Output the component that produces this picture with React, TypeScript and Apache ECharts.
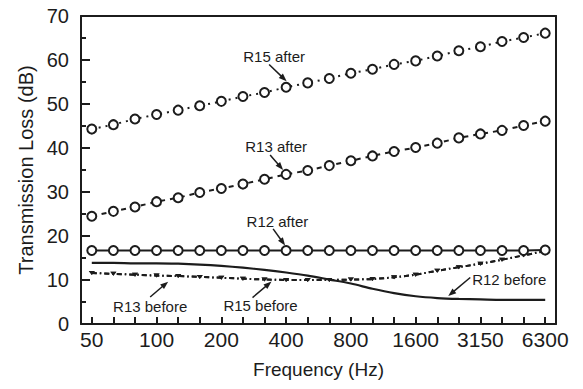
import React, { useEffect, useRef } from "react";
import * as echarts from "echarts";

const frequencies = ["50", "63", "80", "100", "125", "160", "200", "250", "315", "400", "500", "630", "800", "1000", "1250", "1600", "2000", "2500", "3150", "4000", "5000", "6300"];

const r15After = [44.3, 45.3, 46.6, 47.6, 48.6, 49.6, 50.6, 51.7, 52.6, 53.8, 54.8, 55.8, 57.0, 57.9, 59.0, 59.8, 60.9, 62.1, 63.0, 64.2, 65.1, 66.1];
const r13After = [24.5, 25.6, 26.6, 27.8, 28.7, 29.9, 30.8, 31.8, 32.9, 34.0, 34.9, 36.0, 37.1, 38.2, 39.2, 40.1, 41.1, 42.3, 43.2, 44.0, 45.1, 46.1];
const r12After = [16.7, 16.7, 16.7, 16.7, 16.7, 16.7, 16.7, 16.7, 16.7, 16.7, 16.7, 16.7, 16.7, 16.7, 16.7, 16.7, 16.7, 16.7, 16.7, 16.7, 16.7, 16.8];
const r12Before = [13.9, 13.9, 13.8, 13.8, 13.7, 13.5, 13.2, 12.8, 12.3, 11.7, 11.0, 10.1, 9.2, 8.0, 7.0, 6.3, 5.9, 5.7, 5.6, 5.5, 5.5, 5.5];
const r13Before = [11.6, 11.4, 11.2, 11.0, 10.9, 10.7, 10.5, 10.3, 10.1, 10.0, 10.0, 10.0, 10.1, 10.2, 10.6, 11.2, 12.1, 12.9, 13.7, 14.6, 15.6, 16.6];
const r15Before = [11.6, 11.4, 11.2, 11.0, 10.9, 10.7, 10.5, 10.3, 10.1, 10.0, 10.0, 10.0, 10.1, 10.2, 10.6, 11.2, 12.1, 12.9, 13.7, 14.6, 15.6, 16.6];

const yMin = 0;
const yMax = 70;
const yInterval = 10;
const yMinorInterval = 5;

const annotationTexts = ["R15 after", "R13 after", "R12 after", "R13 before", "R15 before", "R12 before"];
const annotationAnchors: [number, number][] = [[9, 53.8], [9, 34.0], [9, 16.7], [4, 10.9], [8, 10.1], [16, 5.9]];

const INK = "#1c1c1c";
const FONT = '"Liberation Sans", Arial, Helvetica, sans-serif';

export default function App() {
  const ref = useRef<HTMLDivElement>(null);

  useEffect(() => {
    if (!ref.current) return;
    const chart = echarts.init(ref.current, undefined, { renderer: "svg" });

    const circleSeries = (name: string, data: number[], lineType: any) => ({
      name,
      type: "line",
      data,
      symbol: "emptyCircle",
      symbolSize: 9,
      lineStyle: { color: INK, width: 2, type: lineType },
      itemStyle: { color: INK, borderColor: INK, borderWidth: 1.6 },
      z: 3,
    });
    const triSeries = (name: string, data: number[]) => ({
      name,
      type: "line",
      data,
      symbol: "triangle",
      symbolRotate: 180,
      symbolSize: [6, 4],
      lineStyle: { color: INK, width: 2, type: [5, 3, 1.5, 3] },
      itemStyle: { color: INK },
      z: 2,
    });

    chart.setOption({
      animation: false,
      backgroundColor: "#ffffff",
      grid: { left: 81, right: 27, top: 16, bottom: 65 },
      xAxis: [
        {
          type: "category",
          data: frequencies,
          boundaryGap: true,
          name: "Frequency (Hz)",
          nameLocation: "middle",
          nameGap: 36,
          nameTextStyle: { fontFamily: FONT, fontSize: 19, color: INK },
          axisLine: { show: true, lineStyle: { color: INK, width: 2 } },
          axisTick: { show: true, inside: true, alignWithLabel: true, interval: 0, length: 7, lineStyle: { color: INK, width: 2 } },
          axisLabel: { interval: 2, fontFamily: FONT, fontSize: 21, color: INK, margin: 5 },
          splitLine: { show: false },
        },
        {
          type: "category",
          data: frequencies,
          position: "top",
          axisLine: { show: true, onZero: false, lineStyle: { color: INK, width: 2 } },
          axisTick: { show: false },
          axisLabel: { show: false },
          splitLine: { show: false },
        },
      ],
      yAxis: [
        {
          type: "value",
          min: yMin,
          max: yMax,
          interval: yInterval,
          name: "Transmission Loss (dB)",
          nameLocation: "middle",
          nameGap: 44,
          nameTextStyle: { fontFamily: FONT, fontSize: 20, color: INK },
          axisLine: { show: true, lineStyle: { color: INK, width: 2 } },
          axisTick: { show: true, inside: true, length: 9, lineStyle: { color: INK, width: 2 } },
          axisLabel: { fontFamily: FONT, fontSize: 20, color: INK, margin: 12 },
          splitLine: { show: false },
        },
        {
          type: "value",
          min: yMin,
          max: yMax,
          interval: yMinorInterval,
          position: "left",
          axisLine: { show: false },
          axisTick: { show: true, inside: true, length: 5, lineStyle: { color: INK, width: 2 } },
          axisLabel: { show: false },
          splitLine: { show: false },
        },
        {
          type: "value",
          min: yMin,
          max: yMax,
          interval: yInterval,
          position: "right",
          axisLine: { show: true, onZero: false, lineStyle: { color: INK, width: 2 } },
          axisTick: { show: false },
          axisLabel: { show: false },
          splitLine: { show: false },
        },
      ],
      series: [
        circleSeries("R15 after", r15After, [2, 5]),
        circleSeries("R13 after", r13After, [5, 5]),
        circleSeries("R12 after", r12After, "solid"),
        {
          name: "R12 before",
          type: "line",
          data: r12Before,
          symbol: "none",
          smooth: 0.3,
          lineStyle: { color: INK, width: 2.2 },
          z: 2,
        },
        triSeries("R13 before", r13Before),
        triSeries("R15 before", r15Before),
      ],
    });

    // Annotation offsets (pixels) relative to the data anchor: tip, tail, label centre
    const tips: [number, number][] = [[0.5, -6], [-3, -4.5], [-1, -5], [-10, 5.6], [7, 2], [11, -2]];
    const tails: [number, number][] = [[-17, -22.7], [-16, -19.4], [-13, -21.7], [-28, 21], [-12, 18], [33, -20.5]];
    const labels: [number, number][] = [[-12, -30.4], [-10, -27.7], [-8.7, -29.3], [-28, 30], [-4, 26], [72, -19]];

    const graphics: any[] = [];
    annotationTexts.forEach((text, k) => {
      const a = chart.convertToPixel({ xAxisIndex: 0, yAxisIndex: 0 }, annotationAnchors[k]) as number[];
      const tip = [a[0] + tips[k][0], a[1] + tips[k][1]];
      const tail = [a[0] + tails[k][0], a[1] + tails[k][1]];
      const dx = tip[0] - tail[0];
      const dy = tip[1] - tail[1];
      const len = Math.sqrt(dx * dx + dy * dy);
      const ux = dx / len;
      const uy = dy / len;
      const nx = -uy;
      const ny = ux;
      const L = 8;
      const W = 3;
      graphics.push({
        type: "line",
        shape: { x1: tail[0], y1: tail[1], x2: tip[0] - ux * L * 0.7, y2: tip[1] - uy * L * 0.7 },
        style: { stroke: INK, lineWidth: 1.5 },
        z: 10,
      });
      graphics.push({
        type: "polygon",
        shape: {
          points: [
            [tip[0], tip[1]],
            [tip[0] - ux * L + nx * W, tip[1] - uy * L + ny * W],
            [tip[0] - ux * L - nx * W, tip[1] - uy * L - ny * W],
          ],
        },
        style: { fill: INK },
        z: 10,
      });
      graphics.push({
        type: "text",
        x: a[0] + labels[k][0],
        y: a[1] + labels[k][1],
        style: { text, fill: INK, font: `15px ${FONT}`, align: "center", verticalAlign: "middle" },
        z: 10,
      });
    });
    chart.setOption({ graphic: graphics });

    return () => chart.dispose();
  }, []);

  return <div ref={ref} style={{ position: "fixed", left: 0, top: 0, width: 583, height: 389, background: "#fff" }} />;
}
